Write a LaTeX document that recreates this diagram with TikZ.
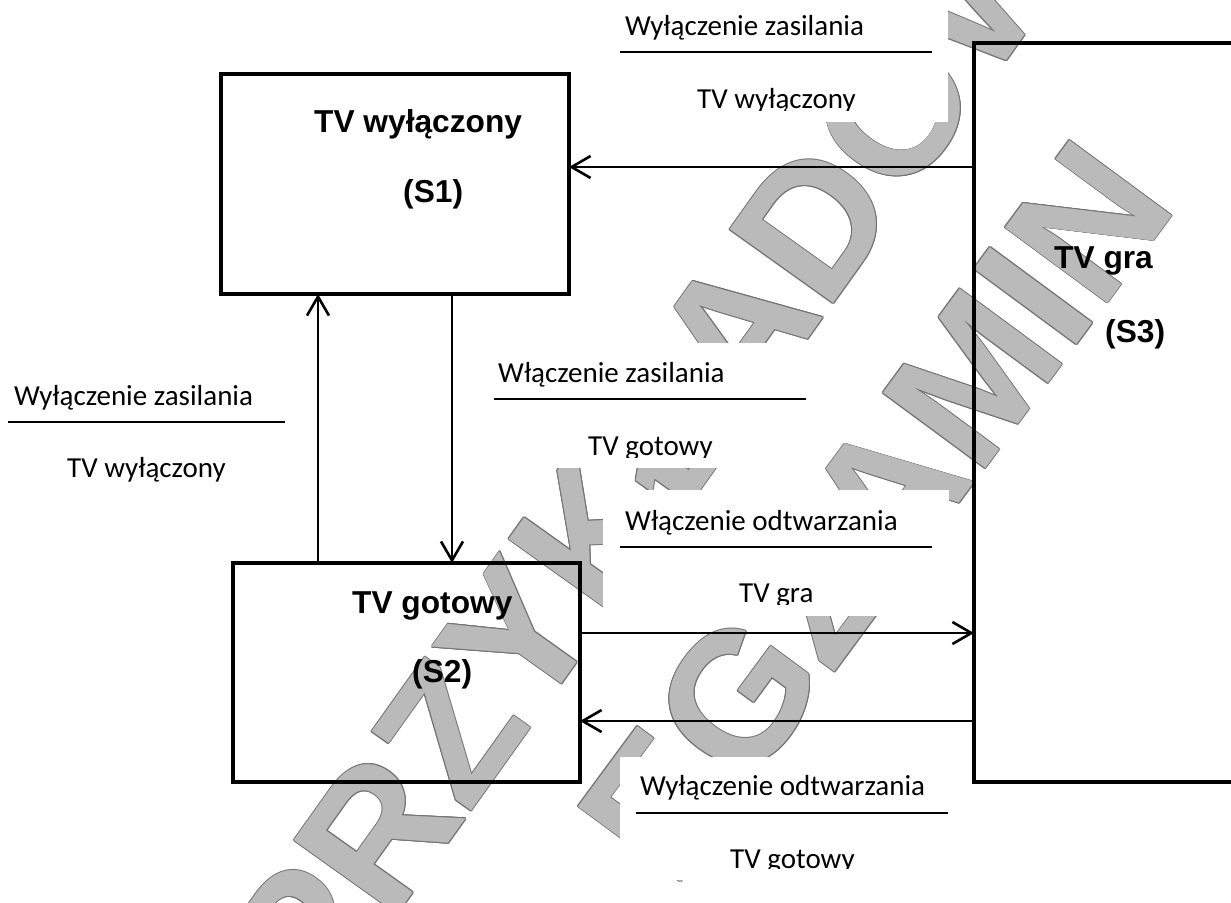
\documentclass[tikz,border=0pt]{standalone}
\usepackage{fontspec}
\setmainfont{Carlito}
\newfontfamily\headfont{Liberation Sans}
\usetikzlibrary{arrows.meta}

\tikzset{
  statebox/.style={draw, line width=4pt, inner sep=0pt, outer sep=0pt},
  flow/.style={line width=2.6pt, -{Straight Barb[length=19pt,width=22pt]}},
  rule/.style={line width=2.4pt},
  lbl/.style={font=\fontsize{29}{34}\selectfont, anchor=base west, inner sep=0pt},
  title/.style={font=\headfont\bfseries\fontsize{31.7}{38}\selectfont, anchor=base west, inner sep=0pt},
  mask/.style={fill=white},
  wm/.style={font=\headfont\bfseries\fontsize{185}{200}\selectfont, text=black!27, inner sep=0pt},
  wmedge/.style={wm, text=black!55}
}

\begin{document}
\begin{tikzpicture}[x=1pt,y=-1pt]
\clip (0,0) rectangle (1231,902);
\fill[white] (0,0) rectangle (1231,902);

% background watermark: thin darker rim, lighter letters on top
\foreach \dx/\dy [count=\k] in {0.9/0,-0.9/0,0/0.9,0/-0.9,0.64/0.64,-0.64/0.64,0.64/-0.64,-0.64/-0.64} {
  \node[wmedge, rotate=54.5] (wmrimA\k) at ([shift={(\dx,\dy)}]688,398) {PRZYKŁADOWY};
  \node[wmedge, rotate=53.6] (wmrimB\k) at ([shift={(\dx,\dy)}]875,511) {EGZAMIN};
}
\node[wm, rotate=54.5] (wm1) at (688,398) {PRZYKŁADOWY};
\node[wm, rotate=53.6] (wm2) at (875,511) {EGZAMIN};

% white panels behind the transition labels
\fill[mask] (615,0) rectangle (948,122);
\fill[mask] (488,343) rectangle (818,468);
\fill[mask] (603,490) rectangle (949,616);
\fill[mask] (620,757) rectangle (948,880);

% states
\node[statebox, minimum width=348pt, minimum height=220pt] (S1) at (395,184) {};
\node[statebox, minimum width=347pt, minimum height=219pt] (S2) at (406.5,672.5) {};
\node[statebox, minimum width=300pt, minimum height=739pt] (S3) at (1124,412.5) {};

\node[title] (S1a) at (314,132) {TV wyłączony};
\node[title] (S1b) at (403,202) {(S1)};
\node[title] (S2a) at (352,613) {TV gotowy};
\node[title] (S2b) at (412,682) {(S2)};
\node[title] (S3a) at (1054,268) {TV gra};
\node[title] (S3b) at (1105,342) {(S3)};

% rows and columns of the transitions
\coordinate (r1) at (0,167);
\coordinate (r2) at (0,633);
\coordinate (r3) at (0,721);
\coordinate (c1) at (318,0);
\coordinate (c2) at (452,0);

\draw[flow] (S3.west |- r1) -- (S1.east |- r1);
\draw[flow] (S1.south -| c2) -- (S2.north -| c2);
\draw[flow] (S2.north -| c1) -- (S1.south -| c1);
\draw[flow] (S2.east |- r2) -- (S3.west |- r2);
\draw[flow] (S3.west |- r3) -- (S2.east |- r3);

% transition labels: event over action
\node[lbl] (e1) at (625,35) {Wyłączenie zasilania};
\coordinate (u1a) at (620,52); \coordinate (u1b) at (932,52);
\draw[rule] (u1a) -- (u1b);
\begin{scope}
  \clip (615,0) rectangle (948,110);
  \node[lbl] (a1) at (697,108) {TV wyłączony};
\end{scope}

\node[lbl] (e2) at (14,405) {Wyłączenie zasilania};
\coordinate (u2a) at (8,422); \coordinate (u2b) at (285,422);
\draw[rule] (u2a) -- (u2b);
\node[lbl] (a2) at (67,477) {TV wyłączony};

\node[lbl] (e3) at (498,382) {Włączenie zasilania};
\coordinate (u3a) at (494,399); \coordinate (u3b) at (806,399);
\draw[rule] (u3a) -- (u3b);
\begin{scope}
  \clip (488,343) rectangle (818,457);
  \node[lbl] (a3) at (588,455) {TV gotowy};
\end{scope}

\node[lbl] (e4) at (625,530) {Włączenie odtwarzania};
\coordinate (u4a) at (620,547); \coordinate (u4b) at (932,547);
\draw[rule] (u4a) -- (u4b);
\begin{scope}
  \clip (603,490) rectangle (949,604);
  \node[lbl] (a4) at (739,602) {TV gra};
\end{scope}

\node[lbl] (e5) at (640,795) {Wyłączenie odtwarzania};
\coordinate (u5a) at (636,813); \coordinate (u5b) at (948,813);
\draw[rule] (u5a) -- (u5b);
\begin{scope}
  \clip (620,757) rectangle (948,868);
  \node[lbl] (a5) at (730,868) {TV gotowy};
\end{scope}
\end{tikzpicture}
\end{document}
